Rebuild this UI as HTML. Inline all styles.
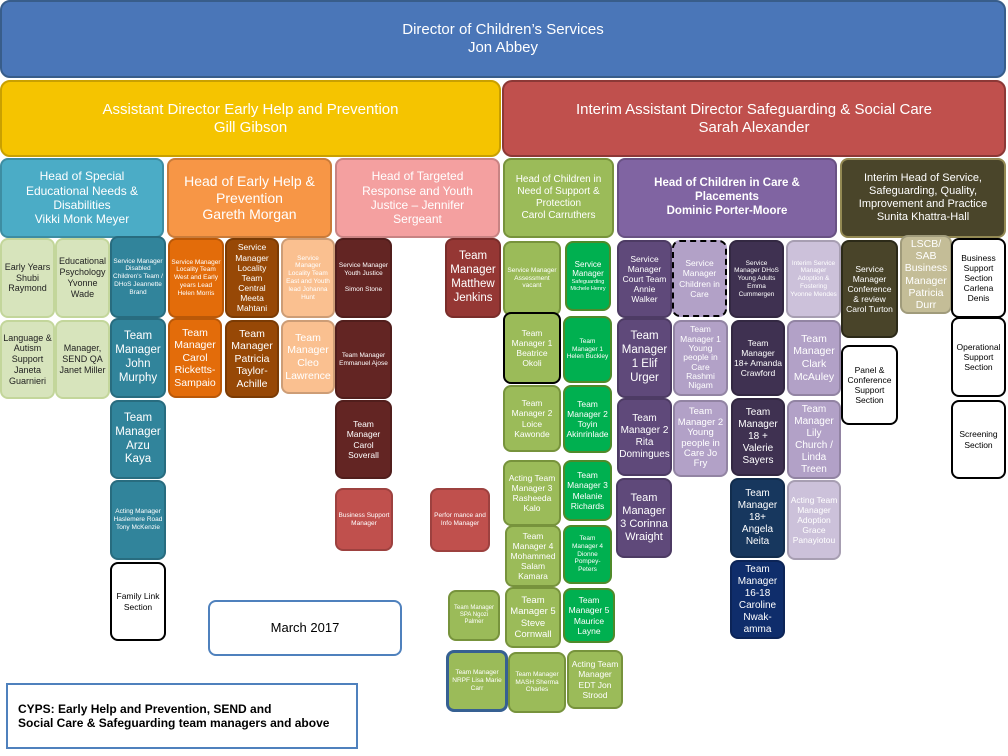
<!DOCTYPE html>
<html><head><meta charset="utf-8"><style>
body{margin:0;width:1008px;height:756px;background:#fff;position:relative;overflow:hidden;font-family:"Liberation Sans",sans-serif;}
.b{position:absolute;box-sizing:border-box;border-radius:8px;display:flex;align-items:center;justify-content:center;text-align:center;color:#fff;line-height:1.2;overflow:hidden;border:2px solid rgba(0,0,0,0.18);padding:1px;}
.lg{background:#d7e4bc;color:#222;border-color:#c3d69b;font-size:9px}
.tl{background:#31849b}.or{background:#e36c0a}.br{background:#974806}.lo{background:#fac090}
.mr{background:#632523}.rd{background:#c0504d}.rk{background:#953734}
.gg{background:#9bbb59;border-color:#77933c}.gr{background:#00b050;border-color:#4f8a2a}
.pu{background:#5f497a}.lp{background:#b2a1c7}.dp{background:#3f3151}.nv{background:#17375e}
.wh{background:#fff;color:#000;border:2px solid #000}
.s{font-size:6.5px}.m{font-size:8.5px}.l{font-size:11.5px}
</style></head><body>
<div class="b" style="left:0;top:0;width:1006px;height:78px;background:#4a76b8;border-color:#385d8a;font-size:15px;border-radius:10px">Director of Children’s Services<br>Jon Abbey</div>
<div class="b" style="left:0;top:80px;width:501px;height:77px;background:#f5c400;border-color:#c9a000;font-size:15px;border-radius:10px">Assistant Director Early Help and Prevention<br>Gill Gibson</div>
<div class="b" style="left:502px;top:80px;width:504px;height:77px;background:#c0504d;border-color:#8c3836;font-size:15px;border-radius:10px">Interim Assistant Director Safeguarding &amp; Social Care<br>Sarah Alexander</div>

<div class="b" style="left:0;top:158px;width:164px;height:80px;background:#4bacc6;font-size:12px;padding:0 12px">Head of Special Educational Needs &amp; Disabilities<br>Vikki Monk Meyer</div>
<div class="b" style="left:167px;top:158px;width:165px;height:80px;background:#f79646;font-size:14px;padding:0 14px">Head of Early Help &amp; Prevention<br>Gareth Morgan</div>
<div class="b" style="left:335px;top:158px;width:165px;height:80px;background:#f4a0a0;font-size:12px;padding:0 12px">Head of Targeted Response and Youth Justice – Jennifer Sergeant</div>
<div class="b gg" style="left:503px;top:158px;width:111px;height:80px;font-size:10px;padding:0 10px">Head of Children in Need of Support &amp; Protection<br>Carol Carruthers</div>
<div class="b" style="left:617px;top:158px;width:220px;height:80px;background:#8064a2;font-size:11.5px;font-weight:bold;padding:0 25px">Head of Children in Care &amp; Placements<br>Dominic Porter-Moore</div>
<div class="b" style="left:840px;top:158px;width:166px;height:80px;background:#4a452a;border-color:#938953;font-size:11px">Interim Head of Service, Safeguarding, Quality, Improvement and Practice<br>Sunita Khattra-Hall</div>

<div class="b lg" style="left:0;top:238px;width:55px;height:80px">Early Years Shubi Raymond</div>
<div class="b lg" style="left:55px;top:238px;width:55px;height:80px">Educational Psychology Yvonne Wade</div>
<div class="b tl s" style="left:110px;top:236px;width:56px;height:82px">Service Manager Disabled Children's Team / DHoS Jeannette Brand</div>
<div class="b or s" style="left:168px;top:238px;width:56px;height:80px">Service Manager Locality Team West and Early years Lead Helen Morris</div>
<div class="b br m" style="left:225px;top:238px;width:54px;height:80px">Service Manager Locality Team Central Meeta Mahtani</div>
<div class="b lo s" style="left:281px;top:238px;width:54px;height:80px">Service Manager Locality Team East and Youth lead Johanna Hunt</div>
<div class="b mr s" style="left:335px;top:238px;width:57px;height:80px">Service Manager Youth Justice<br><br>Simon Stone</div>
<div class="b rk l" style="left:445px;top:238px;width:56px;height:80px">Team Manager Matthew Jenkins</div>

<div class="b lg" style="left:0;top:320px;width:55px;height:79px">Language &amp; Autism Support Janeta Guarnieri</div>
<div class="b lg" style="left:55px;top:320px;width:55px;height:79px">Manager, SEND QA Janet Miller</div>
<div class="b tl l" style="left:110px;top:318px;width:56px;height:80px">Team Manager John Murphy</div>
<div class="b or" style="left:168px;top:318px;width:54px;height:80px;font-size:10.5px">Team Manager Carol Ricketts-Sampaio</div>
<div class="b br" style="left:225px;top:320px;width:54px;height:78px;font-size:10.5px">Team Manager Patricia Taylor-Achille</div>
<div class="b lo" style="left:281px;top:320px;width:54px;height:74px;font-size:10.5px">Team Manager Cleo Lawrence</div>
<div class="b mr s" style="left:335px;top:320px;width:57px;height:79px">Team Manager Emmanuel Ajose</div>
<div class="b tl l" style="left:110px;top:400px;width:56px;height:79px">Team Manager Arzu Kaya</div>
<div class="b mr m" style="left:335px;top:400px;width:57px;height:79px">Team Manager Carol Soverall</div>
<div class="b tl s" style="left:110px;top:480px;width:56px;height:80px">Acting Manager Haslemere Road Tony McKenzie</div>
<div class="b wh m" style="left:110px;top:562px;width:56px;height:79px">Family Link Section</div>
<div class="b rd s" style="left:335px;top:488px;width:58px;height:63px">Business Support Manager</div>
<div class="b rd s" style="left:430px;top:488px;width:60px;height:64px">Perfor mance and Info Manager</div>
<div class="b" style="left:208px;top:600px;width:194px;height:56px;background:#fff;color:#000;border-color:#4f81bd;font-size:13px">March  2017</div>
<div class="b" style="left:6px;top:683px;width:352px;height:66px;background:#fff;color:#000;border:2px solid #4f81bd;border-radius:0;justify-content:flex-start;text-align:left;padding-left:10px;font-size:12px;font-weight:bold">CYPS: Early Help and Prevention, SEND and<br>Social Care &amp; Safeguarding team managers and above</div>

<div class="b gg s" style="left:503px;top:241px;width:58px;height:75px">Service Manager Assessment vacant</div>
<div class="b gr" style="left:565px;top:241px;width:46px;height:70px;font-size:8px;flex-direction:column">Service Manager<span style="font-size:5.5px">Safeguarding Michele Henry</span></div>
<div class="b gg m" style="left:503px;top:312px;width:58px;height:72px;border:2px solid #000">Team Manager 1 Beatrice Okoli</div>
<div class="b gr s" style="left:563px;top:316px;width:49px;height:67px">Team Manager 1 Helen Buckley</div>
<div class="b gg m" style="left:503px;top:385px;width:58px;height:67px">Team Manager 2 Loice Kawonde</div>
<div class="b gr m" style="left:563px;top:385px;width:49px;height:68px">Team Manager 2 Toyin Akinrinlade</div>
<div class="b gg m" style="left:503px;top:460px;width:58px;height:66px">Acting Team Manager 3 Rasheeda Kalo</div>
<div class="b gr m" style="left:563px;top:460px;width:49px;height:61px">Team Manager 3 Melanie Richards</div>
<div class="b gg m" style="left:505px;top:525px;width:56px;height:62px">Team Manager 4 Mohammed Salam Kamara</div>
<div class="b gr s" style="left:563px;top:525px;width:49px;height:59px">Team Manager 4 Dionne Pompey-Peters</div>
<div class="b gg" style="left:448px;top:590px;width:52px;height:51px;font-size:6px">Team Manager SPA Ngozi Palmer</div>
<div class="b gg" style="left:505px;top:587px;width:56px;height:61px;font-size:9.5px">Team Manager 5 Steve Cornwall</div>
<div class="b gr m" style="left:563px;top:588px;width:52px;height:55px">Team Manager 5 Maurice Layne</div>
<div class="b gg s" style="left:446px;top:650px;width:62px;height:62px;border:3px solid #366092">Team Manager NRPF Lisa Marie Carr</div>
<div class="b gg s" style="left:508px;top:652px;width:58px;height:61px">Team Manager MASH Sherma Charles</div>
<div class="b gg m" style="left:567px;top:650px;width:56px;height:59px">Acting Team Manager EDT Jon Strood</div>

<div class="b pu m" style="left:617px;top:240px;width:55px;height:78px">Service Manager Court Team Annie Walker</div>
<div class="b lp m" style="left:672px;top:240px;width:55px;height:77px;border:2px dashed #000">Service Manager Children in Care</div>
<div class="b dp s" style="left:729px;top:240px;width:55px;height:78px">Service Manager DHoS Young Adults Emma Cummergen</div>
<div class="b lp s" style="left:786px;top:240px;width:55px;height:78px;background:#ccc1da">Interim Service Manager Adoption &amp; Fostering Yvonne Mendes</div>
<div class="b pu l" style="left:617px;top:318px;width:55px;height:80px">Team Manager 1 Elif Urger</div>
<div class="b lp" style="left:673px;top:320px;width:55px;height:76px;font-size:8.5px;line-height:1.1">Team Manager 1 Young people in Care Rashmi Nigam</div>
<div class="b dp m" style="left:731px;top:320px;width:54px;height:76px">Team Manager 18+ Amanda Crawford</div>
<div class="b lp" style="left:787px;top:320px;width:54px;height:76px;font-size:10.5px">Team Manager Clark McAuley</div>
<div class="b pu" style="left:617px;top:398px;width:55px;height:78px;font-size:10px">Team Manager 2 Rita Domingues</div>
<div class="b lp" style="left:673px;top:400px;width:55px;height:77px;font-size:9.5px;line-height:1.1">Team Manager 2 Young people in Care Jo Fry</div>
<div class="b dp" style="left:731px;top:398px;width:54px;height:78px;font-size:10px">Team Manager 18 + Valerie Sayers</div>
<div class="b lp" style="left:787px;top:400px;width:54px;height:79px;font-size:10px">Team Manager Lily Church / Linda Treen</div>
<div class="b pu" style="left:616px;top:478px;width:56px;height:80px;font-size:11px">Team Manager 3 Corinna Wraight</div>
<div class="b nv" style="left:730px;top:478px;width:55px;height:80px;font-size:10px">Team Manager 18+ Angela Neita</div>
<div class="b lp m" style="left:787px;top:480px;width:54px;height:80px;background:#ccc1da">Acting Team Manager Adoption Grace Panayiotou</div>
<div class="b" style="left:730px;top:560px;width:55px;height:79px;background:#0f2d6b;font-size:10px">Team Manager 16-18 Caroline Nwak-amma</div>

<div class="b m" style="left:841px;top:240px;width:57px;height:98px;background:#494429;border-color:#2c2a18">Service Manager Conference &amp; review Carol Turton</div>
<div class="b" style="left:900px;top:235px;width:52px;height:79px;background:#c4bd97;font-size:10.5px;line-height:1.15">LSCB/ SAB Business Manager Patricia Durr</div>
<div class="b wh m" style="left:951px;top:238px;width:55px;height:80px">Business Support Section Carlena Denis</div>
<div class="b wh m" style="left:841px;top:345px;width:57px;height:80px">Panel &amp; Conference Support Section</div>
<div class="b wh m" style="left:951px;top:317px;width:55px;height:80px">Operational Support Section</div>
<div class="b wh m" style="left:951px;top:400px;width:55px;height:79px">Screening Section</div>
</body></html>
